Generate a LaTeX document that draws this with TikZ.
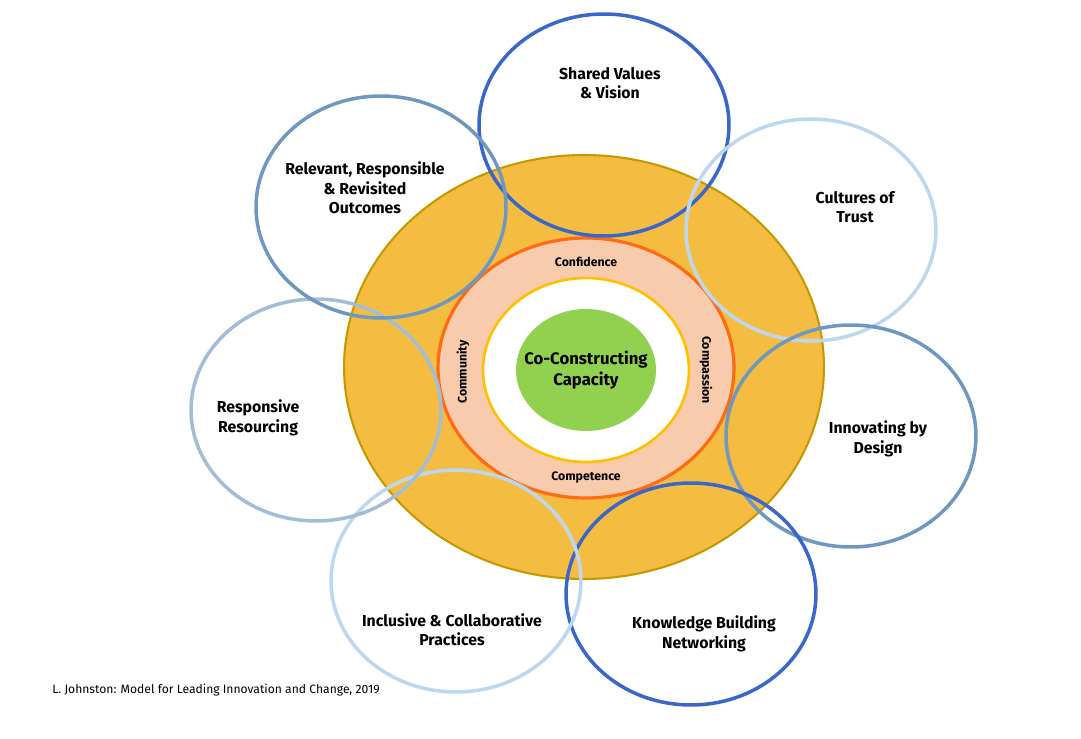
\documentclass[tikz,border=0pt]{standalone}
\usepackage{fontspec}
\setmainfont{Fira Sans}
\usetikzlibrary{shapes.geometric}
\definecolor{goldfill}{HTML}{F4BD42}
\definecolor{goldline}{HTML}{C49A00}
\definecolor{peach}{HTML}{F8CBAD}
\definecolor{peachline}{HTML}{FF6A13}
\definecolor{yellowline}{HTML}{FFC000}
\definecolor{leaf}{HTML}{92D050}
\definecolor{deepblue}{HTML}{3A67C8}
\definecolor{steelblue}{HTML}{6F98C0}
\definecolor{paleblue}{HTML}{BDD7EE}
\definecolor{midblue}{HTML}{A3BDD8}
\begin{document}
\begin{tikzpicture}[x=0.02cm, y=-0.02cm, align=center]
    \tikzstyle{every node}=[inner sep=0pt];
    \tikzstyle{ring}=[ellipse, draw, line width=1.2pt];
    \tikzstyle{petal}=[ellipse, draw, line width=2pt, minimum width=5cm, minimum height=4.44cm];
    \tikzstyle{title}=[font=\fontsize{9}{11}\selectfont\bfseries, text=black];
    \tikzstyle{word}=[font=\fontsize{7}{8}\selectfont\bfseries, text=black];

    \useasboundingbox (0,0) rectangle (1081,739);

    \node (core) [ring, fill=goldfill, draw=goldline, minimum width=9.6cm, minimum height=8.48cm] at (584,367) {};
    \node (band) [ring, fill=peach, draw=peachline, line width=1.8pt, minimum width=5.92cm, minimum height=5.2cm] at (586,368) {};
    \node (hole) [ring, fill=white, draw=yellowline, line width=1.5pt, minimum width=4.12cm, minimum height=3.68cm] at (586,370) {};
    \node (seed) [ellipse, fill=leaf, minimum width=2.8cm, minimum height=2.44cm] at (586,370) {};
    \node (cc) [title, font=\fontsize{9.5}{11.5}\selectfont\bfseries] at (586,370) {Co-Constructing\\Capacity};

    \node (conf) [word] at (586,262) {Confidence};
    \node (comp) [word] at (586,477) {Competence};
    \node (comm) [word, rotate=90] at (463,372) {Community};
    \node (cpsn) [word, rotate=-90] at (706,370) {Compassion};

    \node (shared) [petal, draw=deepblue] at (604,125) {};
    \node (trust) [petal, draw=paleblue] at (811,230) {};
    \node (innov) [petal, draw=steelblue] at (851,436) {};
    \node (know) [petal, draw=deepblue] at (691,594) {};
    \node (incl) [petal, draw=paleblue] at (456,581) {};
    \node (resp) [petal, draw=midblue] at (316,410) {};
    \node (relev) [petal, draw=steelblue] at (381,207) {};

    \node [title] at (610,83) {Shared Values\\\& Vision};
    \node [title] at (855,207) {Cultures of\\Trust};
    \node [title] at (878,439) {Innovating by\\Design};
    \node [title] at (704,634) {Knowledge Building\\Networking};
    \node [title] at (452,630) {Inclusive \& Collaborative\\Practices};
    \node [title] at (258,418) {Responsive\\Resourcing};
    \node [title] at (365,188) {Relevant, Responsible\\\& Revisited\\Outcomes};

    \node (credit) [anchor=west, font=\fontsize{6.9}{8}\selectfont] at (52,690) {L. Johnston: Model for Leading Innovation and Change, 2019};
\end{tikzpicture}
\end{document}
